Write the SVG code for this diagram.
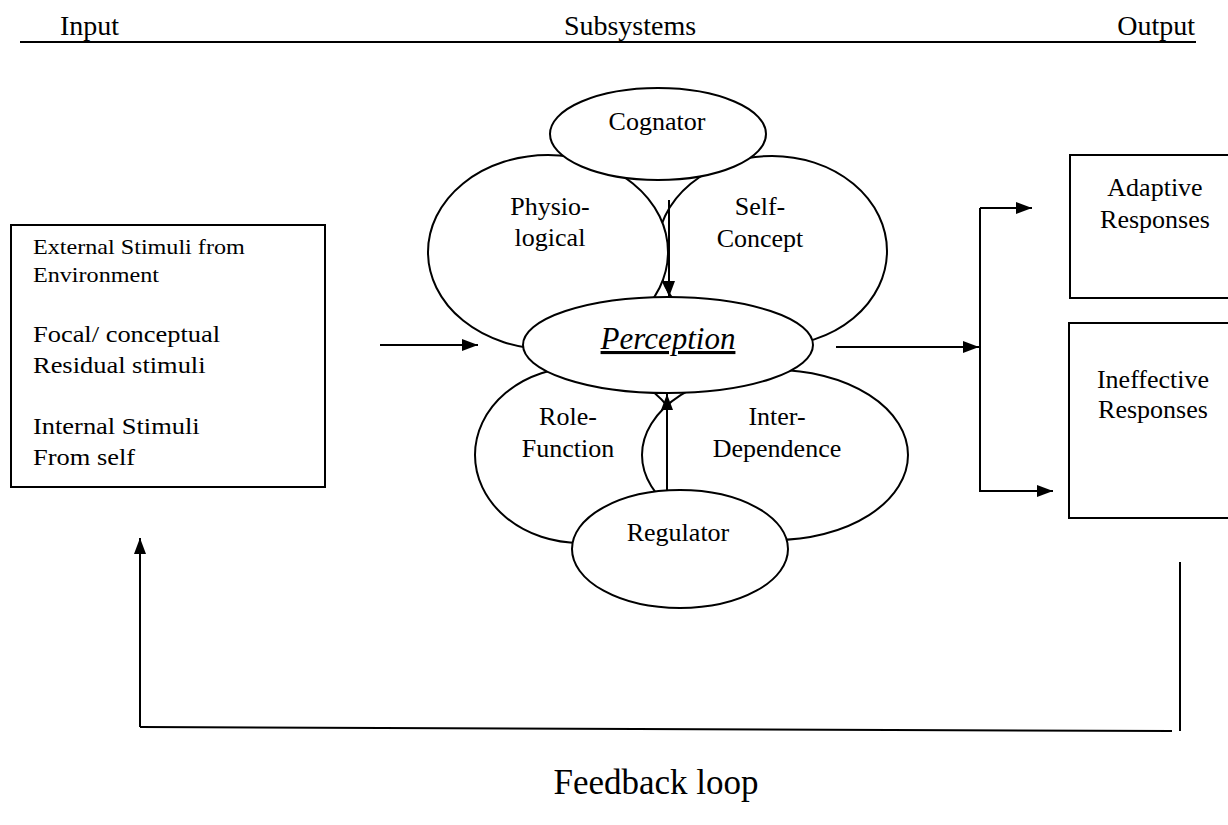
<svg xmlns="http://www.w3.org/2000/svg" width="1228" height="825" viewBox="0 0 1228 825">
<defs>
<style>
text{font-family:"Liberation Serif","Times New Roman",serif;fill:#000}
.hd{font-size:28px}
.lb{font-size:26px;text-anchor:middle}
.node{fill:#fff;stroke:#000;stroke-width:2}
.ln{fill:none;stroke:#000;stroke-width:2}
.bx{fill:#fff;stroke:#000;stroke-width:2}
</style>
<marker id="ah" viewBox="0 0 16 12" refX="16" refY="6" markerWidth="16" markerHeight="12" markerUnits="userSpaceOnUse" orient="auto">
<path d="M0,0 L16,6 L0,12 z" fill="#000"/>
</marker>
</defs>
<rect width="1228" height="825" fill="#fff"/>

<g id="header">
<text class="hd" x="60" y="35">Input</text>
<text class="hd" x="630" y="35" text-anchor="middle">Subsystems</text>
<text class="hd" x="1195" y="35" text-anchor="end">Output</text>
<line class="ln" x1="20" y1="42" x2="1196" y2="42"/>
</g>

<g id="input-box">
<rect class="bx" x="11" y="225" width="314" height="262"/>
<g transform="translate(33,0) scale(1.15,1)">
<text x="0" y="254" font-size="21">External Stimuli from</text>
<text x="0" y="282" font-size="21">Environment</text>
<text x="0" y="342" font-size="23">Focal/ conceptual</text>
<text x="0" y="373" font-size="23">Residual stimuli</text>
<text x="0" y="434" font-size="23">Internal Stimuli</text>
<text x="0" y="465" font-size="23">From self</text>
</g>
</g>

<g id="role-function">
<ellipse class="node" cx="580" cy="455" rx="105" ry="88"/>
<text class="lb" x="568" y="425">Role-</text>
<text class="lb" x="568" y="457">Function</text>
</g>
<g id="inter-dependence">
<ellipse class="node" cx="775" cy="455" rx="133" ry="85"/>
<text class="lb" x="777" y="425">Inter-</text>
<text class="lb" x="777" y="457">Dependence</text>
</g>
<g id="self-concept">
<ellipse class="node" cx="772" cy="251" rx="115" ry="95"/>
<text class="lb" x="760" y="215">Self-</text>
<text class="lb" x="760" y="247">Concept</text>
</g>
<g id="physiological">
<ellipse class="node" cx="548" cy="252" rx="120" ry="97"/>
<text class="lb" x="550" y="215">Physio-</text>
<text class="lb" x="550" y="246">logical</text>
</g>
<g id="perception">
<ellipse class="node" cx="668" cy="345" rx="145" ry="48"/>
<text x="668" y="349" font-size="31" font-style="italic" text-anchor="middle" text-decoration="underline">Perception</text>
</g>
<g id="cognator">
<ellipse class="node" cx="658" cy="134" rx="108" ry="46"/>
<text class="lb" x="657" y="130">Cognator</text>
</g>
<g id="regulator">
<ellipse class="node" cx="680" cy="549" rx="108" ry="59"/>
<text class="lb" x="678" y="541">Regulator</text>
</g>

<g id="adaptive">
<rect class="bx" x="1070" y="155" width="170" height="143"/>
<text class="lb" x="1155" y="196">Adaptive</text>
<text class="lb" x="1155" y="228">Responses</text>
</g>
<g id="ineffective">
<rect class="bx" x="1069" y="323" width="171" height="195"/>
<text class="lb" x="1153" y="388">Ineffective</text>
<text class="lb" x="1153" y="418">Responses</text>
</g>

<g id="connectors">
<line class="ln" x1="669" y1="200" x2="669" y2="297" marker-end="url(#ah)"/>
<line class="ln" x1="667" y1="490" x2="667" y2="394" marker-end="url(#ah)"/>
<line class="ln" x1="380" y1="345" x2="478" y2="345" marker-end="url(#ah)"/>
<line class="ln" x1="836" y1="347" x2="979" y2="347" marker-end="url(#ah)"/>
<line class="ln" x1="980" y1="208" x2="980" y2="492"/>
<polyline class="ln" points="980,208 1032,208" marker-end="url(#ah)"/>
<polyline class="ln" points="980,491 1053,491" marker-end="url(#ah)"/>
<line class="ln" x1="1180" y1="562" x2="1180" y2="731"/>
<line class="ln" x1="1172" y1="731" x2="140" y2="727"/>
<line class="ln" x1="140" y1="727" x2="140" y2="538" marker-end="url(#ah)"/>
</g>

<g id="feedback-label">
<text x="656" y="794" font-size="35" text-anchor="middle">Feedback loop</text>
</g>
</svg>
